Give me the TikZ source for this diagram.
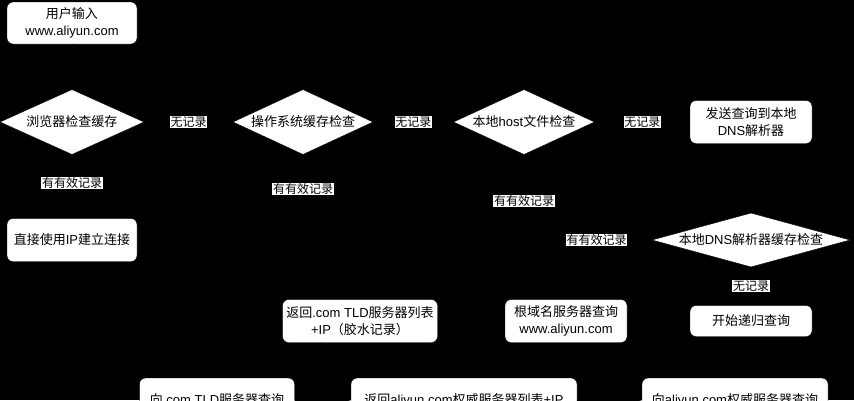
\documentclass[tikz,border=0pt]{standalone}
\usepackage{fontspec}
\setmainfont{Liberation Sans}
\newfontfamily\zh{Noto Sans CJK SC}
\newcommand{\cn}[1]{{\zh #1}}
\usetikzlibrary{shapes.geometric,arrows.meta}

\tikzset{
  box/.style={rectangle, rounded corners=6pt, fill=white, draw=black, inner sep=0pt,
    align=center, font=\fontsize{13}{17}\selectfont},
  check/.style={diamond, fill=white, draw=black, inner sep=0pt, aspect=2.2,
    font=\fontsize{13}{17}\selectfont},
  lbl/.style={fill=white, inner sep=0.6pt, font=\fontsize{12}{14}\selectfont},
  link/.style={draw=black, -{Stealth}},
}

\begin{document}
\begin{tikzpicture}[x=1pt,y=-1pt]
\fill [black] (0,0) rectangle (854,400);
\useasboundingbox (0,0) rectangle (854,400);

% first row
\node (start) [box, minimum width=130pt, minimum height=42pt] at (72,23) {\cn{用户输入}\\www.aliyun.com};
\node (browser) [check, minimum width=144pt, minimum height=65pt] at (72,122) {\cn{浏览器检查缓存}};
\node (oscache) [check, minimum width=140pt, minimum height=65pt] at (303,122) {\cn{操作系统缓存检查}};
\node (hostfile) [check, minimum width=141pt, minimum height=65pt] at (524,122) {\cn{本地}host\cn{文件检查}};
\node (sendq) [box, minimum width=122pt, minimum height=43pt] at (751,122) {\cn{发送查询到本地}\\DNS\cn{解析器}};

% middle
\node (direct) [box, minimum width=130pt, minimum height=43pt] at (72,240) {\cn{直接使用}IP\cn{建立连接}};
\node (dnscache) [check, aspect=3.8, minimum width=198pt, minimum height=54pt] at (751,240) {\cn{本地}DNS\cn{解析器缓存检查}};

% recursion
\node (recur) [box, minimum width=122pt, minimum height=31pt] at (751,321) {\cn{开始递归查询}};
\node (rootq) [box, minimum width=122pt, minimum height=43pt] at (566,321) {\cn{根域名服务器查询}\\www.aliyun.com};
\node (tldret) [box, minimum width=155pt, minimum height=43pt] at (360,321) {\cn{返回}.com TLD\cn{服务器列表}\\+IP\cn{（胶水记录）}};
\node (tldq) [box, minimum width=155pt, minimum height=44pt] at (217,400) {\cn{向}.com TLD\cn{服务器查询}};
\node (authret) [box, minimum width=226pt, minimum height=44pt] at (464,400) {\cn{返回}aliyun.com\cn{权威服务器列表}+IP};
\node (authq) [box, minimum width=186pt, minimum height=44pt] at (735,400) {\cn{向}aliyun.com\cn{权威服务器查询}};

% connectors
\draw [link] (start) -- (browser);
\draw [link] (browser) -- node [lbl] {\cn{无记录}} (oscache);
\draw [link] (oscache) -- node [lbl] {\cn{无记录}} (hostfile);
\draw [link] (hostfile) -- node [lbl] {\cn{无记录}} (sendq);
\draw [link] (browser) -- node [lbl, pos=0.45] {\cn{有有效记录}} (direct);
\draw [link] (oscache) |- node [lbl, pos=0.2] {\cn{有有效记录}} (direct);
\draw [link] (hostfile) |- node [lbl, pos=0.27] {\cn{有有效记录}} (direct);
\draw [link] (sendq) -- (dnscache);
\draw [link] (dnscache) -- node [lbl, pos=0.107] {\cn{有有效记录}} (direct);
\draw [link] (dnscache) -- node [lbl] {\cn{无记录}} (recur);
\draw [link] (recur) -- (rootq);
\draw [link] (rootq) -- (tldret);
\draw [link] (tldret) -- (tldq);
\draw [link] (tldq) -- (authret);
\draw [link] (authret) -- (authq);
\end{tikzpicture}
\end{document}
